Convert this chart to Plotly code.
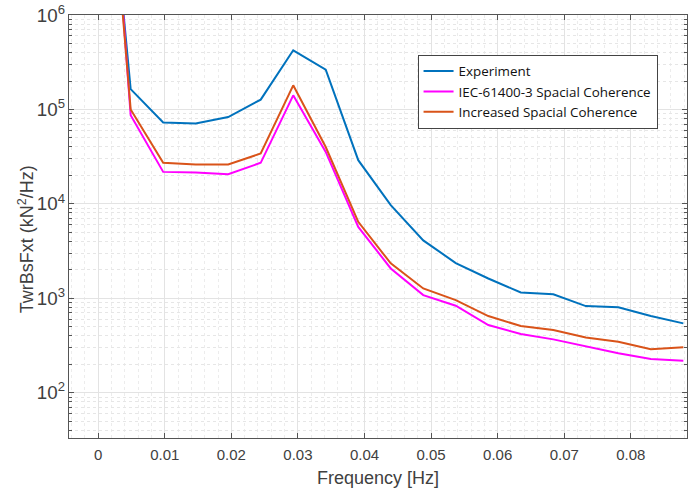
import plotly.graph_objects as go

# Frequency bins (Hz)
freq = [0.0, 0.004883, 0.009766, 0.014648, 0.019531, 0.024414, 0.029297, 0.034180,
        0.039063, 0.043945, 0.048828, 0.053711, 0.058594, 0.063477, 0.068359,
        0.073242, 0.078125, 0.083008, 0.087891]

experiment = [7.0e8, 1.64e5, 7.27e4, 7.1e4, 8.3e4, 1.27e5, 4.23e5, 2.64e5,
              2.9e4, 9.7e3, 4.1e3, 2.36e3, 1.62e3, 1.15e3, 1.1e3,
              826, 801, 648, 542]

iec = [4.0e9, 8.7e4, 2.18e4, 2.15e4, 2.06e4, 2.72e4, 1.41e5, 3.55e4,
       5.7e3, 2.07e3, 1.08e3, 833, 520, 418, 367,
       312, 261, 227, 218]

increased = [1.4e9, 1.0e5, 2.72e4, 2.61e4, 2.61e4, 3.41e4, 1.8e5, 4.0e4,
             6.45e3, 2.34e3, 1.27e3, 957, 648, 508, 460,
             385, 347, 288, 302]

series_names = ["Experiment", "IEC-61400-3 Spacial Coherence", "Increased Spacial Coherence"]
series_colors = ["#0072BD", "#FF00FF", "#D95319"]

x_tickvals = [0, 0.01, 0.02, 0.03, 0.04, 0.05, 0.06, 0.07, 0.08]
x_ticktext = ["0", "0.01", "0.02", "0.03", "0.04", "0.05", "0.06", "0.07", "0.08"]

fig = go.Figure()
for name, ys, col in zip(series_names, [experiment, iec, increased], series_colors):
    fig.add_trace(go.Scatter(x=freq, y=ys, mode="lines", name=name,
                             line=dict(color=col, width=2)))

axis_font = dict(family="Liberation Sans, Arial", size=15, color="#404040")
title_font = dict(family="Liberation Sans, Arial", size=18, color="#404040")

fig.update_layout(
    width=694, height=493,
    margin=dict(l=68.5, r=7.3, t=14.7, b=55, autoexpand=False),
    plot_bgcolor="white", paper_bgcolor="white",
    showlegend=True,
    legend=dict(x=0.564, y=0.906, xanchor="left", yanchor="top",
                bgcolor="white", bordercolor="#444", borderwidth=1,
                font=dict(family="Open Sans", size=13.4, color="#111"),
                tracegroupgap=0, itemwidth=30),
    xaxis=dict(
        range=[-0.00438, 0.08844],
        tickvals=x_tickvals, ticktext=x_ticktext,
        ticks="inside", ticklen=5, tickcolor="#555",
        showline=True, linecolor="#555", linewidth=1, mirror="ticks",
        showgrid=True, gridcolor="#e3e3e3", gridwidth=1,
        zeroline=False,
        tickfont=axis_font, ticklabelstandoff=3,
        title=dict(text="Frequency [Hz]", font=title_font, standoff=9),
        minor=dict(dtick=0.002, tick0=0, showgrid=True, gridcolor="#ececec",
                   griddash="dot", ticks=""),
    ),
    yaxis=dict(
        type="log", range=[1.52, 6],
        dtick=1, exponentformat="power",
        ticks="inside", ticklen=5, tickcolor="#555",
        showline=True, linecolor="#555", linewidth=1, mirror="ticks",
        showgrid=True, gridcolor="#e3e3e3", gridwidth=1,
        zeroline=False,
        tickfont=axis_font,
        minor=dict(dtick="D1", showgrid=True, gridcolor="#e6e6e6",
                   griddash="dot", ticks="inside", ticklen=3, tickcolor="#555"),
    ),
    annotations=[dict(
        text="TwrBsFxt (kN<sup>2</sup>/Hz)", textangle=-90,
        xref="paper", yref="paper", x=0, y=0.47, xanchor="center", yanchor="middle",
        xshift=-43, showarrow=False, font=title_font,
    )],
)

fig.write_html("out.html")
